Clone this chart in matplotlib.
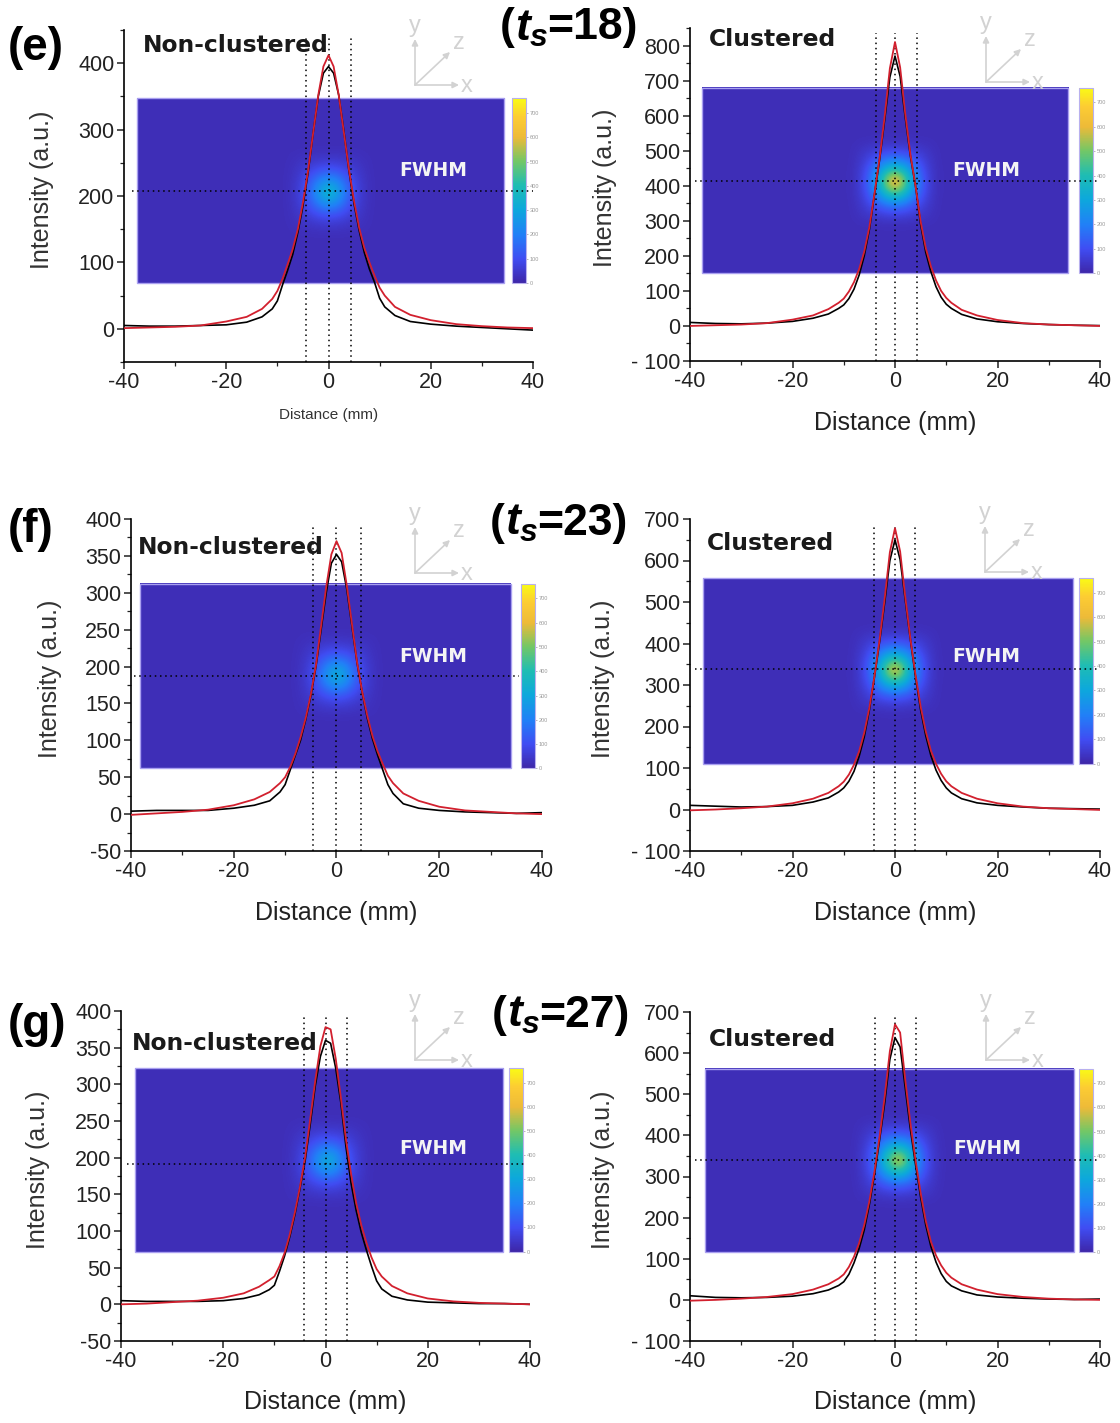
import numpy as np
import matplotlib
matplotlib.use("Agg")
import matplotlib.pyplot as plt
from matplotlib.colors import LinearSegmentedColormap, Normalize
from matplotlib.patches import Rectangle
from matplotlib.ticker import MultipleLocator, FuncFormatter

plt.rcParams['font.family'] = ['Liberation Sans', 'DejaVu Sans']
plt.rcParams['axes.unicode_minus'] = False

W, H = 1120, 1423

##############
# DATA
##############
# line profiles (distance in mm), black = measured, red = fit
x_mm = [-40, -35, -30, -25, -20, -16, -13, -11, -10, -9, -8, -7, -6, -5, -4, -3, -2, -1, 0,
        1, 2, 3, 4, 5, 6, 7, 8, 9, 10, 11, 13, 16, 20, 25, 30, 35, 40]

e_non_meas = [5, 4, 4, 5, 6, 10, 18, 30, 42, 66, 88, 112, 145, 185, 235, 295, 350, 385, 395,
              385, 352, 298, 238, 188, 148, 115, 90, 70, 46, 33, 20, 11, 7, 4, 2, 0, -2]
e_non_fit = [1, 2, 3, 5, 11, 18, 30, 45, 57, 75, 97, 120, 150, 190, 238, 295, 352, 395, 412,
             395, 352, 296, 240, 192, 152, 122, 100, 80, 62, 50, 33, 21, 13, 7, 4, 2, 1]
e_clu_meas = [10, 7, 6, 8, 13, 22, 34, 50, 60, 78, 105, 145, 200, 275, 375, 475, 590, 710, 770,
              712, 595, 485, 400, 290, 210, 155, 112, 82, 62, 50, 33, 20, 12, 7, 4, 2, 1]
e_clu_fit = [0, 2, 4, 8, 18, 30, 48, 66, 78, 98, 125, 162, 212, 282, 378, 480, 600, 735, 810,
             738, 605, 490, 400, 298, 222, 170, 130, 100, 80, 66, 46, 30, 17, 8, 4, 2, 0]
f_non_meas = [4, 5, 5, 5, 8, 12, 18, 30, 40, 60, 80, 100, 128, 160, 200, 250, 300, 340, 352,
              342, 305, 255, 205, 165, 130, 102, 80, 60, 40, 28, 14, 8, 5, 3, 2, 1, 2]
f_non_fit = [-1, 1, 3, 6, 12, 20, 30, 42, 50, 64, 82, 104, 130, 162, 202, 255, 308, 352, 370,
             354, 310, 258, 206, 166, 133, 106, 85, 68, 52, 42, 28, 18, 10, 5, 3, 1, 0]
f_clu_meas = [10, 8, 6, 7, 10, 18, 28, 42, 52, 68, 92, 128, 175, 240, 320, 405, 500, 600, 650,
              602, 505, 410, 320, 240, 178, 130, 95, 70, 52, 40, 26, 16, 10, 6, 3, 2, 1]
f_clu_fit = [-2, 0, 3, 7, 15, 26, 40, 56, 67, 84, 108, 140, 185, 245, 322, 410, 510, 620, 678,
             622, 512, 412, 325, 248, 188, 142, 110, 86, 68, 56, 40, 26, 15, 7, 3, 1, -1]
g_non_meas = [5, 4, 4, 4, 5, 8, 13, 20, 26, 45, 66, 92, 122, 158, 195, 245, 298, 338, 360,
              356, 322, 275, 215, 165, 128, 98, 74, 52, 32, 21, 11, 6, 3, 2, 1, 1, 0]
g_non_fit = [0, 1, 3, 5, 9, 15, 24, 33, 38, 52, 70, 95, 125, 160, 200, 252, 305, 352, 378,
             375, 335, 282, 225, 178, 138, 108, 84, 64, 48, 38, 25, 15, 8, 4, 2, 1, 0]
g_clu_meas = [10, 6, 5, 6, 9, 15, 24, 35, 44, 62, 90, 125, 170, 232, 305, 390, 480, 585, 638,
              615, 515, 415, 330, 250, 182, 130, 92, 64, 45, 34, 22, 12, 7, 4, 2, 1, 2]
g_clu_fit = [-2, 0, 3, 7, 14, 25, 38, 52, 62, 80, 105, 138, 182, 240, 312, 398, 495, 605, 670,
             650, 535, 430, 340, 260, 192, 142, 108, 84, 66, 54, 38, 25, 14, 7, 3, 1, 0]

# FWHM markers (mm) and half-max level
e_non_fwhm = [-4.4, 0, 4.4]; e_non_half = 208
e_clu_fwhm = [-3.7, 0, 4.2]; e_clu_half = 413
f_non_fwhm = [-4.5, 0, 4.7]; f_non_half = 187
f_clu_fwhm = [-4.1, 0, 3.9]; f_clu_half = 338
g_non_fwhm = [-4.2, 0, 4.3]; g_non_half = 191
g_clu_fwhm = [-3.9, 0, 4.0]; g_clu_half = 339

# heat-map spot (normalised shape), peak intensity and background
spot_shape = [
    [0, 0, 0, 0, 0, 0, 0, 0, 0],
    [0, .02, .04, .06, .07, .06, .04, .02, 0],
    [0, .04, .12, .22, .27, .22, .12, .04, 0],
    [0, .06, .22, .48, .65, .48, .22, .06, 0],
    [0, .07, .27, .65, 1.0, .65, .27, .07, 0],
    [0, .06, .22, .48, .65, .48, .22, .06, 0],
    [0, .04, .12, .22, .27, .22, .12, .04, 0],
    [0, .02, .04, .06, .07, .06, .04, .02, 0],
    [0, 0, 0, 0, 0, 0, 0, 0, 0]]
spot_peak = {'e_non': 370, 'e_clu': 700, 'f_non': 340, 'f_clu': 650, 'g_non': 330, 'g_clu': 620}
spot_bg = 22
cbar_ticks = [0, 100, 200, 300, 400, 500, 600, 700]

##############
# LAYOUT
##############
# box = (x of -40, x of 40, y top, y bottom) in pixels
panels = [
    dict(key='e_non', meas=e_non_meas, fit=e_non_fit, fw=e_non_fwhm, half=e_non_half,
         box=(124, 533, 30, 362), ylim=(-50, 450), yt=(0, 400, 100), ymin=50,
         img=(-37.4, 34.4, 69, 347), spot=(0, 205), hx=(-38.5, 40), ylx=-0.171,
         name='Non-clustered', name_px=(143, 45), fwhm_px=(433, 171), glyph=(415, 85), small=True),
    dict(key='e_clu', meas=e_clu_meas, fit=e_clu_fit, fw=e_clu_fwhm, half=e_clu_half,
         box=(690, 1100, 28, 361), ylim=(-100, 850), yt=(-100, 800, 100), ymin=50,
         img=(-37.7, 33.8, 150, 680), spot=(0, 410), hx=(-39, 40), ylx=-0.178,
         name='Clustered', name_px=(709, 40), fwhm_px=(986, 171), glyph=(986, 82), small=False),
    dict(key='f_non', meas=f_non_meas, fit=f_non_fit, fw=f_non_fwhm, half=f_non_half,
         box=(131, 542, 519, 851), ylim=(-50, 400), yt=(-50, 400, 50), ymin=25,
         img=(-38.2, 34.0, 62, 312), spot=(0, 188), hx=(-39.5, 35.5), ylx=-0.168,
         name='Non-clustered', name_px=(138, 548), fwhm_px=(433, 657), glyph=(415, 573), small=False),
    dict(key='f_clu', meas=f_clu_meas, fit=f_clu_fit, fw=f_clu_fwhm, half=f_clu_half,
         box=(690, 1100, 519, 851), ylim=(-100, 700), yt=(-100, 700, 100), ymin=50,
         img=(-37.5, 34.7, 110, 558), spot=(0, 335), hx=(-39, 40), ylx=-0.183,
         name='Clustered', name_px=(707, 543), fwhm_px=(986, 657), glyph=(985, 572), small=False),
    dict(key='g_non', meas=g_non_meas, fit=g_non_fit, fw=g_non_fwhm, half=g_non_half,
         box=(121, 530, 1011, 1341), ylim=(-50, 400), yt=(-50, 400, 50), ymin=25,
         img=(-37.3, 34.7, 72, 322), spot=(0.5, 195), hx=(-38.9, 39.3), ylx=-0.174,
         name='Non-clustered', name_px=(132, 1044), fwhm_px=(433, 1148), glyph=(415, 1060), small=False),
    dict(key='g_clu', meas=g_clu_meas, fit=g_clu_fit, fw=g_clu_fwhm, half=g_clu_half,
         box=(690, 1100, 1012, 1341), ylim=(-100, 700), yt=(-100, 700, 100), ymin=50,
         img=(-37.0, 35.0, 116, 562), spot=(0.5, 340), hx=(-39, 40), ylx=-0.183,
         name='Clustered', name_px=(709, 1039), fwhm_px=(987, 1148), glyph=(986, 1060), small=False),
]

parula = LinearSegmentedColormap.from_list('parula', [
    (0.00, (0.2422, 0.1504, 0.6603)),
    (0.13, (0.2500, 0.3000, 0.9500)),
    (0.26, (0.1300, 0.5000, 0.9700)),
    (0.40, (0.0500, 0.6600, 0.8600)),
    (0.53, (0.1200, 0.7400, 0.7000)),
    (0.66, (0.4500, 0.7800, 0.4000)),
    (0.79, (0.9300, 0.7300, 0.2200)),
    (0.90, (0.9900, 0.8000, 0.2000)),
    (1.00, (0.9769, 0.9839, 0.0805))])
norm = Normalize(0, 760)

fig = plt.figure(figsize=(W / 100, H / 100), dpi=100)

dot = (0, (1, 2.4))
tick_fmt = FuncFormatter(lambda v, p: '- 100' if v == -100 else '%d' % v)

for p in panels:
    x0, x1, ytp, ybt = p['box']
    ax = fig.add_axes([x0 / W, 1 - ybt / H, (x1 - x0) / W, (ybt - ytp) / H])
    ax.set_xlim(-40, 40)
    ax.set_ylim(*p['ylim'])

    # inset heat map
    ix0, ix1, iy0, iy1 = p['img']
    ax.imshow([[spot_bg]], extent=(ix0, ix1, iy0, iy1), cmap=parula, norm=norm,
              aspect='auto', zorder=1, interpolation='nearest')
    px_mm = (x1 - x0) / 80.0
    px_unit = (ybt - ytp) / (p['ylim'][1] - p['ylim'][0])
    hw = 9.5
    hh = hw * px_mm / px_unit
    sx, sy = p['spot']
    spot = spot_bg + spot_peak[p['key']] * np.array(spot_shape)
    ax.imshow(spot, extent=(sx - hw, sx + hw, sy - hh, sy + hh), cmap=parula, norm=norm,
              aspect='auto', zorder=1.1, interpolation='bicubic')
    ax.add_patch(Rectangle((ix0, iy0), ix1 - ix0, iy1 - iy0, fill=False,
                           ec='#a99ff0', lw=1.0, zorder=1.2))

    # colour bar
    cax = ax.inset_axes([35.9, iy0, 2.8, iy1 - iy0], transform=ax.transData)
    cb = fig.colorbar(plt.cm.ScalarMappable(norm=norm, cmap=parula), cax=cax, ticks=cbar_ticks)
    cb.outline.set_edgecolor('#b8b0ee')
    cb.outline.set_linewidth(0.8)
    cax.tick_params(labelsize=4, colors='#9a9a9a', length=1.2, width=0.5, pad=1)

    # FWHM markers
    for v in p['fw']:
        ax.axvline(v, ymin=0, ymax=0.985, color='k', lw=1.1, ls=dot, zorder=3)
    ax.hlines(p['half'], p['hx'][0], p['hx'][1], color='k', lw=1.1, ls=dot, zorder=6)

    # profiles
    ax.plot(x_mm, p['meas'], color='black', lw=1.2, zorder=4)
    ax.plot(x_mm, p['fit'], color='#d2202e', lw=1.3, zorder=5)

    for s in ['top', 'right']:
        ax.spines[s].set_visible(False)
    for s in ['left', 'bottom']:
        ax.spines[s].set_linewidth(1.2)
    ax.set_xticks([-40, -20, 0, 20, 40])
    ax.xaxis.set_minor_locator(MultipleLocator(10))
    a, b, st = p['yt']
    ax.set_yticks(np.arange(a, b + 1, st))
    ax.yaxis.set_minor_locator(MultipleLocator(p['ymin']))
    ax.yaxis.set_major_formatter(tick_fmt)
    ax.tick_params(which='major', labelsize=15.5, length=5, width=1.1, colors='#222222', pad=2)
    ax.tick_params(which='minor', length=3, width=0.9, colors='#222222')

    ax.set_ylabel('Intensity (a.u.)', fontsize=18, color='#333333')
    ax.yaxis.set_label_coords(p['ylx'], 0.52)
    if p['small']:
        ax.set_xlabel('Distance (mm)', fontsize=11, color='#333333')
        ax.xaxis.set_label_coords(0.5, -0.14)
    else:
        ax.set_xlabel('Distance (mm)', fontsize=18, color='#222222')
        ax.xaxis.set_label_coords(0.5, -0.15)

# overlay in figure pixels
ov = fig.add_axes([0, 0, 1, 1], zorder=10)
ov.set_xlim(0, W)
ov.set_ylim(H, 0)
ov.axis('off')
ov.patch.set_alpha(0)

gcol = '#d2d2d2'
for p in panels:
    nx, ny = p['name_px']
    ov.text(nx, ny, p['name'], fontsize=16.8, fontweight='bold', family='DejaVu Sans',
            color='#1a1a1a', ha='left', va='center')
    fx, fy = p['fwhm_px']
    ov.text(fx, fy, 'FWHM', fontsize=13.5, fontweight='bold', family='DejaVu Sans',
            color='#f4f4f4', ha='center', va='center')
    ox, oy = p['glyph']
    arr = dict(arrowstyle='-|>', color=gcol, lw=1.2, mutation_scale=9, shrinkA=0, shrinkB=0)
    ov.annotate('', xy=(ox, oy - 46), xytext=(ox, oy), arrowprops=arr)
    ov.annotate('', xy=(ox + 44, oy), xytext=(ox, oy), arrowprops=arr)
    ov.annotate('', xy=(ox + 35, oy - 33), xytext=(ox, oy), arrowprops=arr)
    ov.text(ox, oy - 59, 'y', fontsize=17, color=gcol, ha='center', va='center')
    ov.text(ox + 52, oy + 1, 'x', fontsize=17, color=gcol, ha='center', va='center')
    ov.text(ox + 44, oy - 42, 'z', fontsize=17, color=gcol, ha='center', va='center')

for lab, (lx, ly) in [('(e)', (8, 48)), ('(f)', (8, 530)), ('(g)', (8, 1025))]:
    ov.text(lx, ly, lab, fontsize=33, fontweight='bold', ha='left', va='center')

renderer = fig.canvas.get_renderer()


def title_pieces(x, y, num):
    pieces = [('(', 'normal', 32, 0), ('t', 'italic', 32, 0), ('s', 'italic', 23, 10),
              ('=' + num + ')', 'normal', 32, 0)]
    for txt, style, size, dy in pieces:
        t = ov.text(x, y + dy, txt, fontsize=size, fontweight='bold', style=style,
                    ha='left', va='center')
        bb = t.get_window_extent(renderer)
        x += bb.width


title_pieces(500, 28, '18')
title_pieces(490, 523, '23')
title_pieces(492, 1015, '27')

fig.savefig('out.png', dpi=100)
